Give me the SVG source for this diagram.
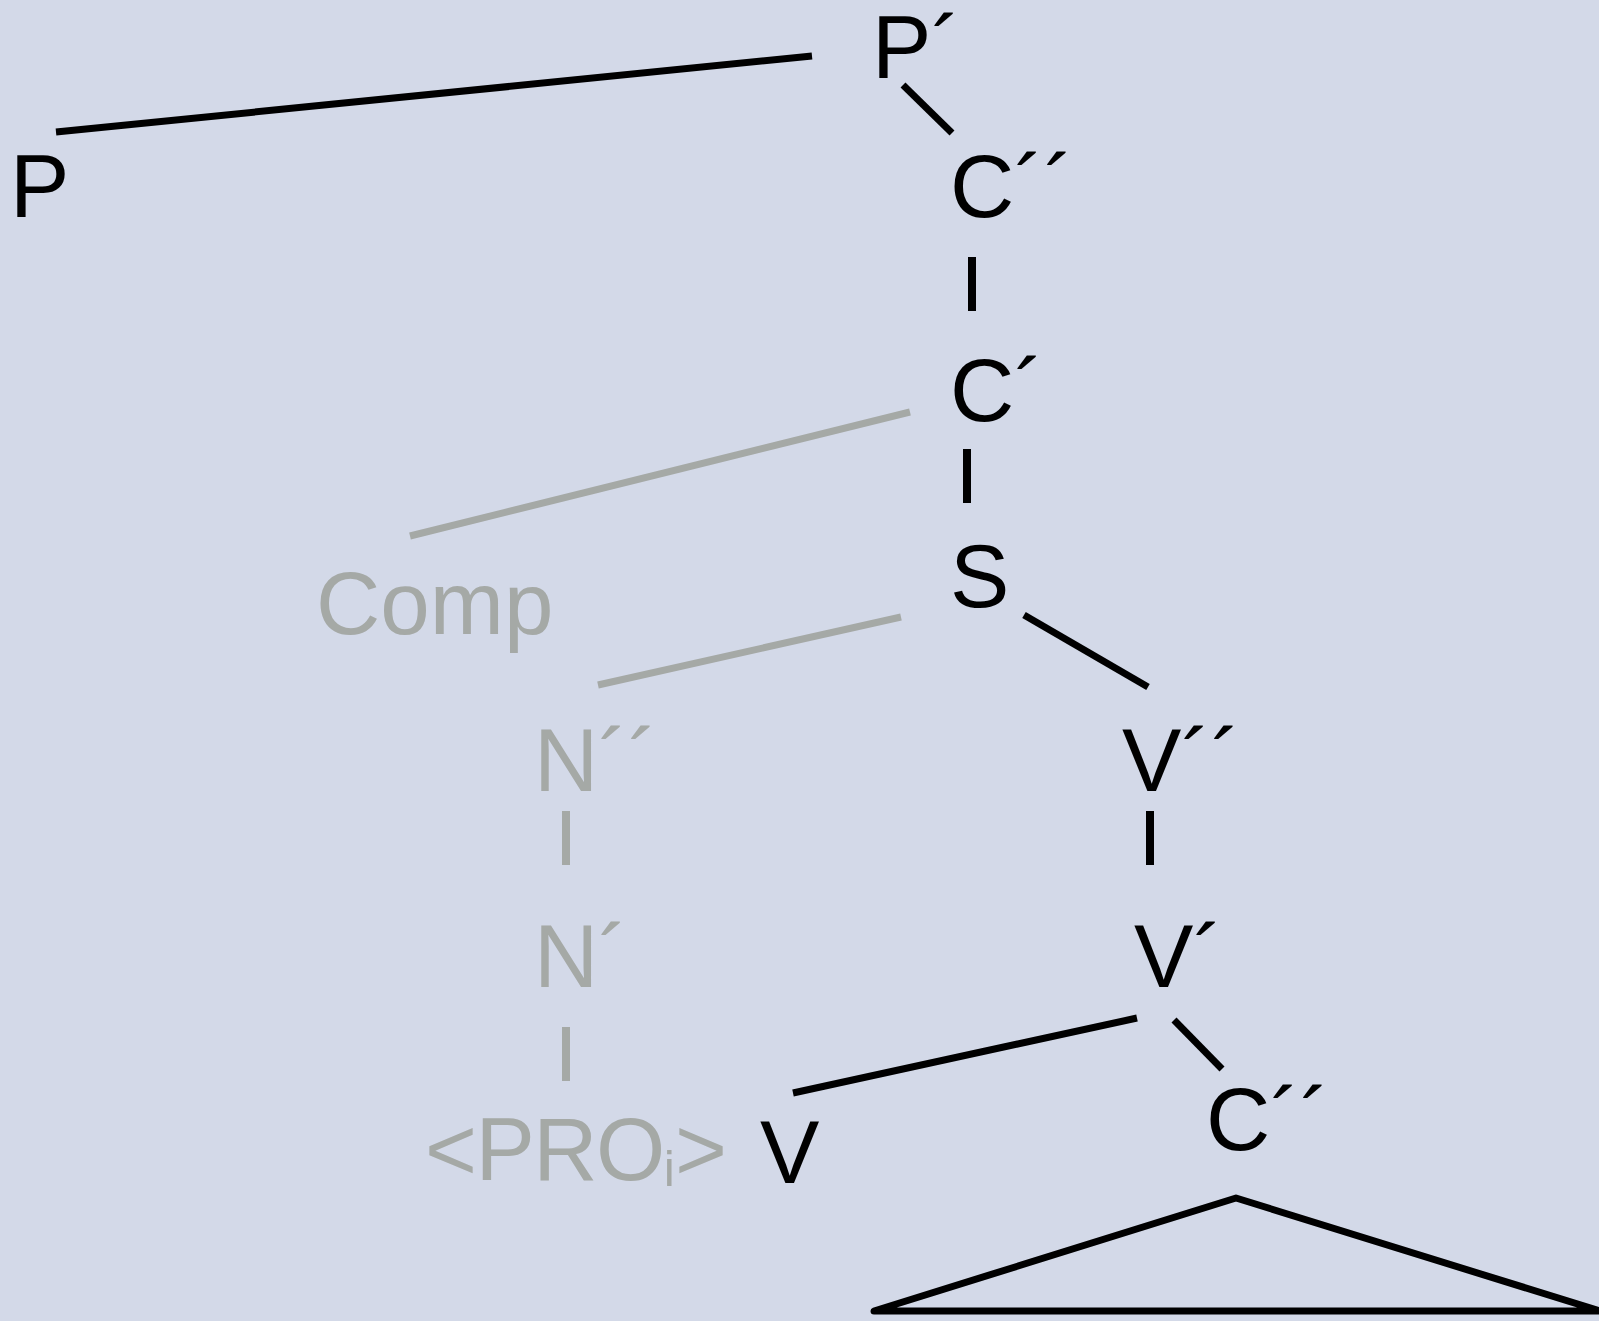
<svg xmlns="http://www.w3.org/2000/svg" width="1599" height="1321" viewBox="0 0 1599 1321">
<style>
text{font-family:"Liberation Sans",Arial,sans-serif;font-size:89px}
.k{fill:#000}
.g{fill:#a5a9a6}
.lk{stroke:#000;stroke-width:7;fill:none}
.lg{stroke:#a5a9a6;stroke-width:7;fill:none}
.b{stroke-width:8}
</style>
<rect width="1599" height="1321" fill="#d3d9e8"/>
<g id="connectors">
<line class="lk" x1="56" y1="132" x2="812" y2="56"/>
<line class="lk" x1="903" y1="85" x2="952" y2="133"/>
<line class="lk b" x1="972" y1="257" x2="972" y2="311"/>
<line class="lk b" x1="967" y1="449" x2="967" y2="503"/>
<line class="lg" x1="910" y1="412" x2="410" y2="536"/>
<line class="lg" x1="901" y1="617" x2="598" y2="685"/>
<line class="lk" x1="1024" y1="615" x2="1148" y2="687"/>
<line class="lg b" x1="566" y1="811" x2="566" y2="865"/>
<line class="lg b" x1="566" y1="1027" x2="566" y2="1081"/>
<line class="lk b" x1="1150" y1="811" x2="1150" y2="865"/>
<line class="lk" x1="1137" y1="1018" x2="793" y2="1093"/>
<line class="lk" x1="1174" y1="1020" x2="1222" y2="1069"/>
<path class="lk" d="M874 1311 L1236 1198 L1600 1311 Z" stroke-linejoin="round"/>
</g>
<g id="n-P"><text class="k" x="10" y="217">P</text></g>
<g id="n-Pbar"><text class="k" x="872" y="78">P´</text></g>
<g id="n-CPP-top"><text class="k" x="950" y="217">C´´</text></g>
<g id="n-CP"><text class="k" x="950" y="421">C´</text></g>
<g id="n-S"><text class="k" x="950" y="607">S</text></g>
<g id="n-Comp"><text class="g" x="316" y="634" font-size="91">Comp</text></g>
<g id="n-NPP"><text class="g" x="534" y="791">N´´</text></g>
<g id="n-NP"><text class="g" x="534" y="987">N´</text></g>
<g id="n-PRO"><text class="g" x="425" y="1180" font-size="80"><tspan letter-spacing="-1.5">&lt;PRO</tspan><tspan font-size="50" dy="6">i</tspan><tspan dy="-6">&gt;</tspan></text></g>
<g id="n-VPP"><text class="k" x="1122" y="791">V´´</text></g>
<g id="n-VP"><text class="k" x="1134" y="987">V´</text></g>
<g id="n-V"><text class="k" x="760" y="1183">V</text></g>
<g id="n-CPP-bot"><text class="k" x="1206" y="1150">C´´</text></g>
</svg>
